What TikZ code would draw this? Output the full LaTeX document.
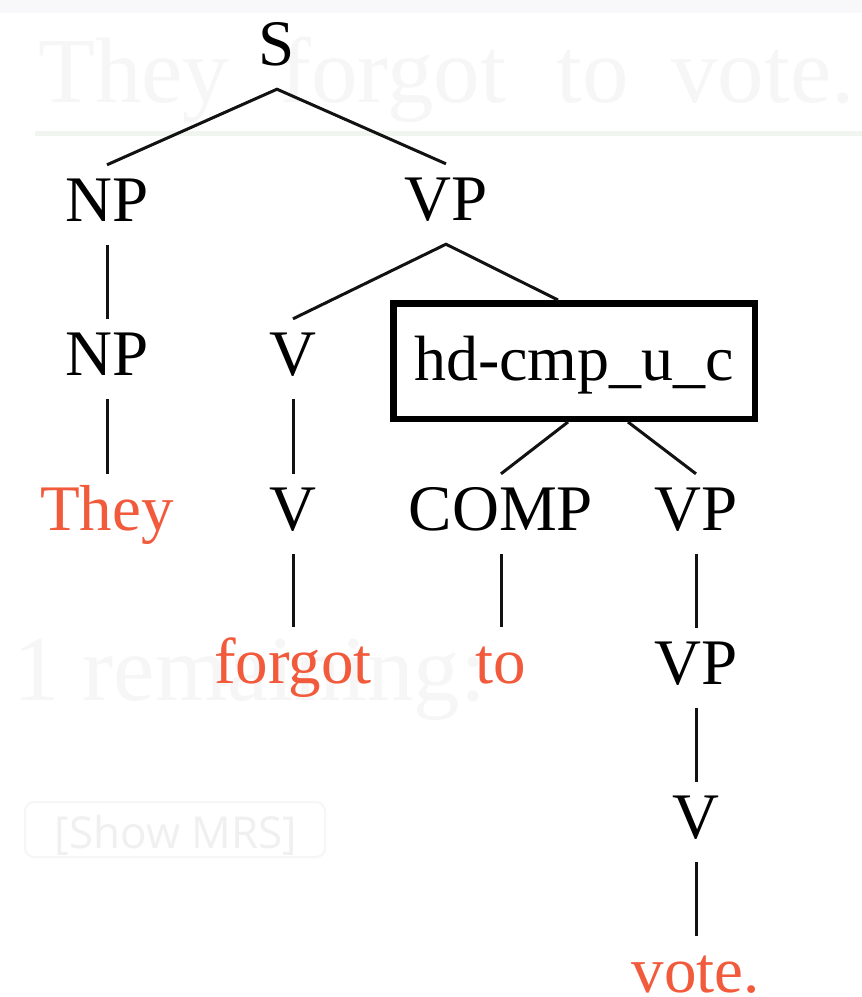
\documentclass[tikz,border=0pt]{standalone}
\usepackage{fontspec}
\setmainfont{Liberation Serif}
\newfontfamily\btnfont{Open Sans}
\definecolor{wordred}{RGB}{242,90,60}
\definecolor{ghost}{RGB}{246,246,246}
\definecolor{ghostline}{RGB}{240,245,240}
\definecolor{band}{RGB}{248,248,250}
\tikzset{
  cat/.style={anchor=base, inner xsep=0pt, inner ysep=13pt, text height=43pt, text depth=11pt,
    font=\fontsize{65}{70}\selectfont, text=black},
  word/.style={cat, text=wordred},
  rulebox/.style={draw=black, line width=6.5pt, anchor=center, inner sep=0pt,
    minimum width=361.5pt, minimum height=115.5pt, text height=43pt, text depth=4pt,
    font=\fontsize{64}{70}\selectfont},
  edge/.style={draw=black!93, line width=3pt},
  ghosttext/.style={anchor=base west, inner sep=0pt, text=ghost, font=\fontsize{93}{100}\selectfont}
}
\begin{document}
\begin{tikzpicture}[x=1pt,y=-1pt]
\useasboundingbox (0,0) rectangle (862,997);
\fill[white] (0,0) rectangle (862,997);
% faint background page elements
\fill[band] (0,0) rectangle (862,13);
\fill[ghostline] (35,130.5) rectangle (862,135.5);
\node[ghosttext] (ghosthead) at (38,102) {They\hspace{51pt}forgot\hspace{51pt}to\hspace{42pt}vote.};
\node[ghosttext] (ghostrem) at (13,700) {1 remaining:};
\draw[draw=ghost, fill=white, line width=2pt, rounded corners=9pt] (25,802) rectangle (325,857);
\node[anchor=base, inner sep=0pt, text=black!6, font=\btnfont\fontsize{44}{50}\selectfont] (btn) at (176,848) {[Show MRS]};
% tree nodes
\node[cat] (S) at (277,65) {S};
\node[cat] (NPa) at (107,221) {NP};
\node[cat] (VPa) at (446,220) {VP};
\node[cat] (NPb) at (107,375) {NP};
\node[cat] (Va) at (293,375) {V};
\node[rulebox] (hd) at (574,361) {hd-cmp\_u\_c};
\node[word] (they) at (107,530) {They};
\node[cat] (Vb) at (293,530) {V};
\node[cat] (comp) at (501,530) {COMP};
\node[cat] (VPb) at (696,530) {VP};
\node[word] (forgot) at (293,683) {forgot};
\node[word] (to) at (501,683) {to};
\node[cat] (VPc) at (696,684) {VP};
\node[cat] (Vc) at (696,838) {V};
\node[word] (vote) at (696,992) {vote.};
% connectors
\draw[edge] (NPa.north) -- (S.south) -- (VPa.north);
\draw[edge] (NPa.south) -- (NPb.north);
\draw[edge] (NPb.south) -- (they.north);
\draw[edge] (Va.north) -- (VPa.south) -- ([xshift=-16pt]hd.north);
\draw[edge] (Va.south) -- (Vb.north);
\draw[edge] (Vb.south) -- (forgot.north);
\draw[edge] ([xshift=-6pt]hd.south) -- (comp.north);
\draw[edge] ([xshift=54pt]hd.south) -- (VPb.north);
\draw[edge] (comp.south) -- (to.north);
\draw[edge] (VPb.south) -- (VPc.north);
\draw[edge] (VPc.south) -- (Vc.north);
\draw[edge] (Vc.south) -- (vote.north);
\end{tikzpicture}
\end{document}
